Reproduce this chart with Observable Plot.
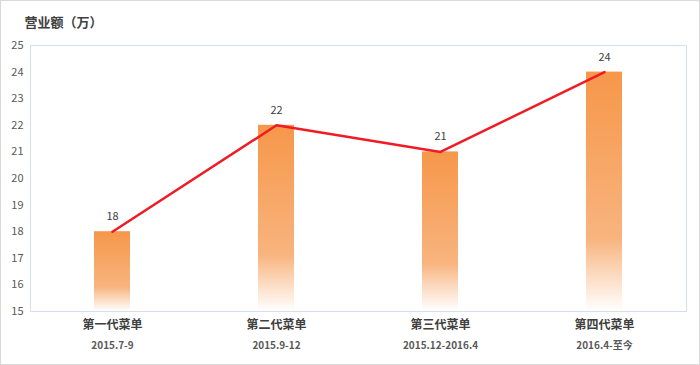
<!DOCTYPE html>
<html>
<head>
<meta charset="utf-8">
<script src="https://cdn.jsdelivr.net/npm/d3@7"></script>
<script src="https://cdn.jsdelivr.net/npm/@observablehq/plot@0.6"></script>
<style>
  html, body { margin: 0; padding: 0; background: #fff; }
  #wrap { width: 698px; height: 363px; border: 1px solid #d9d9d9; overflow: hidden; }
  svg { display: block; }
</style>
</head>
<body>
<div id="wrap"></div>
<script>
const categories = ["第一代菜单", "第二代菜单", "第三代菜单", "第四代菜单"];
const periods = ["2015.7-9", "2015.9-12", "2015.12-2016.4", "2016.4-至今"];
const revenue = [18, 22, 21, 24];
const yTicks = [15, 16, 17, 18, 19, 20, 21, 22, 23, 24, 25];
const title = "营业额（万）";

const data = categories.map((c, i) => ({ name: c, period: periods[i], value: revenue[i] }));
const font = "'Noto Sans CJK SC', 'Microsoft YaHei', sans-serif";

const chart = Plot.plot({
  width: 698,
  height: 363,
  marginTop: 44,
  marginBottom: 53,
  marginLeft: 29,
  marginRight: 13,
  style: { fontFamily: font, background: "#fff" },
  x: { domain: categories, paddingInner: 0.78, paddingOuter: 0.39, label: null },
  y: { domain: [15, 25], ticks: yTicks, label: null },
  marks: [
    () => {
      const svg = d3.create("svg:defs");
      const g = svg.append("linearGradient").attr("id", "barGrad")
        .attr("x1", 0).attr("y1", 0).attr("x2", 0).attr("y2", 1);
      g.append("stop").attr("offset", "0").attr("stop-color", "#f6974a");
      g.append("stop").attr("offset", "0.7").attr("stop-color", "#f8b47e");
      g.append("stop").attr("offset", "0.82").attr("stop-color", "#fbd3b3");
      g.append("stop").attr("offset", "1").attr("stop-color", "#ffffff");
      return svg.node();
    },
    Plot.frame({ stroke: "#d5dfec", strokeWidth: 1 }),
    Plot.barY(data, { x: "name", y1: 15, y2: "value", fill: "url(#barGrad)" }),
    Plot.line(data, { x: "name", y: "value", stroke: "#ee1c25", strokeWidth: 2.5 }),
    Plot.text(data, { x: "name", y: "value", text: d => String(d.value), dy: -15, fontSize: 11, fill: "#404040" }),
    Plot.axisY({ ticks: yTicks, tickSize: 0, tickPadding: 7, fontSize: 11, fill: "#595959", label: null }),
    Plot.axisX({ tickSize: 0, tickPadding: 9, fontSize: 12, fontWeight: "bold", fill: "#404040", label: null }),
    Plot.text(data, { x: "name", text: "period", frameAnchor: "bottom", dy: 37, fontSize: 10, fontWeight: "bold", fill: "#595959" }),
    Plot.text([title], { frameAnchor: "top-left", text: d => d, dx: -6, dy: -28, fontSize: 13, fontWeight: "bold", fill: "#404040", textAnchor: "start" })
  ]
});

document.getElementById("wrap").appendChild(chart);
</script>
</body>
</html>
